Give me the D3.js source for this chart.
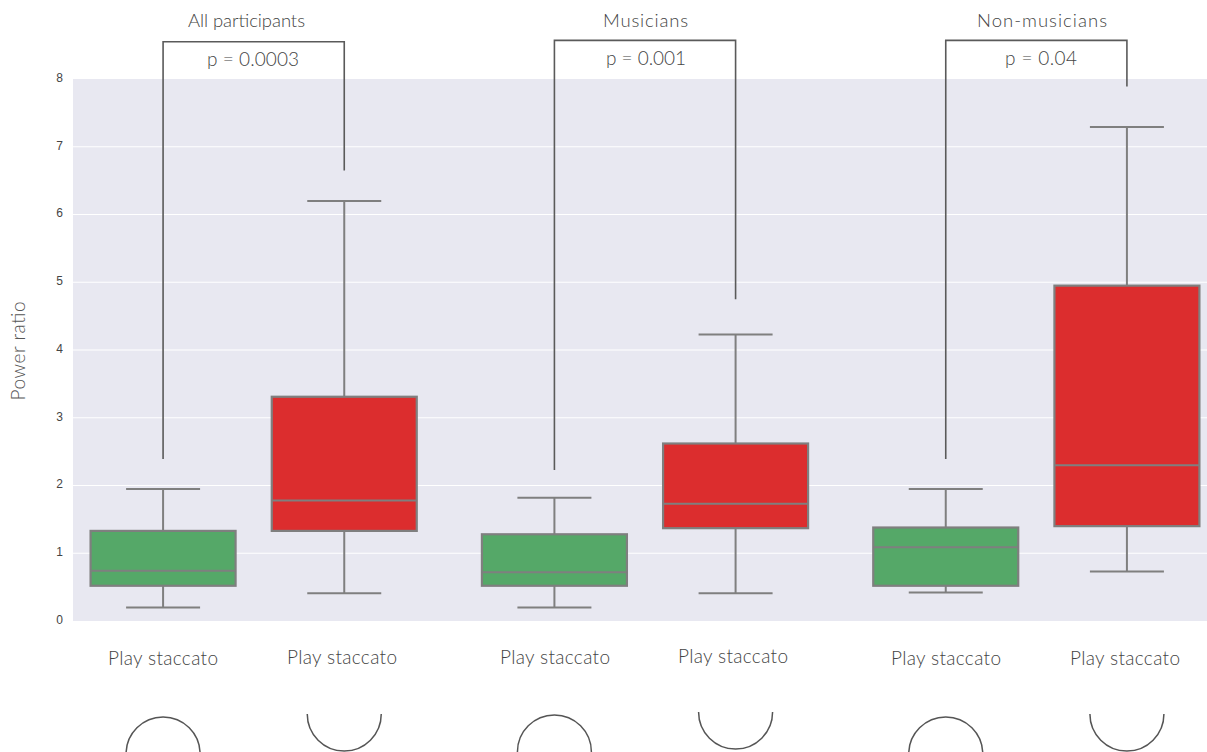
<!DOCTYPE html>
<html><head><meta charset="utf-8">
<script src="https://cdn.jsdelivr.net/npm/d3@7"></script>
<style>html,body{margin:0;padding:0;background:#fff}svg{display:block}</style>
</head><body><svg id="c" width="1207" height="752"></svg>
<script>
const groups = ["All participants", "Musicians", "Non-musicians"];
const pLabels = ["p = 0.0003", "p = 0.001", "p = 0.04"];
const conditions = ["green", "red"];
const conditionLabel = "Play staccato";
const yTicks = [0, 1, 2, 3, 4, 5, 6, 7, 8];
const yTitle = "Power ratio";
const whiskerLow  = [[0.20, 0.41], [0.20, 0.41], [0.42, 0.73]];
const quartile1   = [[0.52, 1.33], [0.52, 1.37], [0.52, 1.40]];
const medians     = [[0.74, 1.78], [0.72, 1.73], [1.09, 2.30]];
const quartile3   = [[1.33, 3.31], [1.28, 2.62], [1.38, 4.95]];
const whiskerHigh = [[1.95, 6.20], [1.82, 4.23], [1.95, 7.29]];
const bracketTop  = [8.55, 8.57, 8.57];
const bracketLeft = [2.39, 2.23, 2.39];
const bracketRight= [6.65, 4.75, 7.89];
const colors = {green: "#55a868", red: "#dc2d2e"};

const svg = d3.select("#c");
const y = d3.scaleLinear().domain([0, 8]).range([621, 79]);
const gx = d3.scaleBand().domain(groups).range([58, 1232]).paddingInner(0).paddingOuter(0);
const cx = d3.scalePoint().domain(conditions).range([0, gx.bandwidth()]).padding(0.58);
const boxW = 145, capW = 74;
const X = (gi, c) => gx(groups[gi]) + cx(c);
const font = "Lato, 'Open Sans', sans-serif";

svg.append("rect").attr("x", 73).attr("y", y(8)).attr("width", 1207 - 73).attr("height", y(0) - y(8)).attr("fill", "#e8e8f1");
svg.append("g").selectAll("line").data(yTicks.slice(1, -1)).join("line")
  .attr("x1", 73).attr("x2", 1207).attr("y1", d => y(d)).attr("y2", d => y(d))
  .attr("stroke", "#fff").attr("stroke-width", 1.2);

const axis = svg.append("g").attr("transform", "translate(73,0)")
  .call(d3.axisLeft(y).tickValues(yTicks).tickSize(0).tickPadding(10).tickFormat(d3.format("d")));
axis.select(".domain").remove();
axis.selectAll("text").attr("font-family", "'Liberation Sans', sans-serif").attr("font-size", 12).attr("fill", "#444").attr("dy", "0.2em");

svg.append("text").attr("transform", "translate(25,351) rotate(-90)").attr("text-anchor", "middle")
  .attr("font-family", font).attr("font-weight", 300).attr("font-size", 19).attr("textLength", 99).attr("fill", "#555").text(yTitle);

const gray = "#7f7f7f";
const titleCx = [246.5, 645.5, 1042], titleW = [117, 85, 130], titleY = [27, 27, 27];
const pCx = [253, 646, 1041], pW = [92, 80, 72], pY = [66, 65, 65];
const labelCx = [[163, 342], [555, 733], [946, 1125]];
const labelY = [[665, 664], [664, 663], [665, 665]];
const arcTop = [717, 715, 717];
const r = 37;

groups.forEach((g, i) => {
  const xs = conditions.map(c => X(i, c));
  const cg = svg.append("g");
  conditions.forEach((c, j) => {
    const px = xs[j];
    const ln = (x1, y1, x2, y2, w) => cg.append("line").attr("x1", x1).attr("y1", y1).attr("x2", x2).attr("y2", y2)
      .attr("stroke", gray).attr("stroke-width", w);
    ln(px, y(whiskerHigh[i][j]), px, y(quartile3[i][j]), 2);
    ln(px, y(quartile1[i][j]), px, y(whiskerLow[i][j]), 2);
    ln(px - capW / 2, y(whiskerHigh[i][j]), px + capW / 2, y(whiskerHigh[i][j]), 2);
    ln(px - capW / 2, y(whiskerLow[i][j]), px + capW / 2, y(whiskerLow[i][j]), 2);
    cg.append("rect").attr("x", px - boxW / 2).attr("width", boxW)
      .attr("y", y(quartile3[i][j])).attr("height", y(quartile1[i][j]) - y(quartile3[i][j]))
      .attr("fill", colors[c]).attr("stroke", gray).attr("stroke-width", 2.2);
    ln(px - boxW / 2, y(medians[i][j]), px + boxW / 2, y(medians[i][j]), 2);

    svg.append("text").attr("x", labelCx[i][j]).attr("y", labelY[i][j]).attr("text-anchor", "middle")
      .attr("font-family", font).attr("font-weight", 300).attr("font-size", 19).attr("textLength", 110).attr("fill", "#444").text(conditionLabel);

    const arc = d3.arc().innerRadius(r).outerRadius(r);
    const isTop = j === 0;
    svg.append("path")
      .attr("d", arc({startAngle: isTop ? -Math.PI / 2 : Math.PI / 2, endAngle: isTop ? Math.PI / 2 : Math.PI * 1.5}))
      .attr("transform", `translate(${px},${isTop ? arcTop[i] + r : arcTop[i] - 3})`)
      .attr("fill", "none").attr("stroke", "#555").attr("stroke-width", 1.5);
  });

  svg.append("path")
    .attr("d", d3.line()([[xs[0], y(bracketLeft[i])], [xs[0], y(bracketTop[i])], [xs[1], y(bracketTop[i])], [xs[1], y(bracketRight[i])]]))
    .attr("fill", "none").attr("stroke", "#5a5a5a").attr("stroke-width", 1.6);

  svg.append("text").attr("x", titleCx[i]).attr("y", titleY[i]).attr("text-anchor", "middle")
    .attr("font-family", font).attr("font-weight", 300).attr("font-size", 18.5).attr("textLength", titleW[i]).attr("fill", "#444").text(g);
  svg.append("text").attr("x", pCx[i]).attr("y", pY[i]).attr("text-anchor", "middle")
    .attr("font-family", font).attr("font-weight", 300).attr("font-size", 19).attr("textLength", pW[i]).attr("fill", "#444").text(pLabels[i]);
});
</script></body></html>
